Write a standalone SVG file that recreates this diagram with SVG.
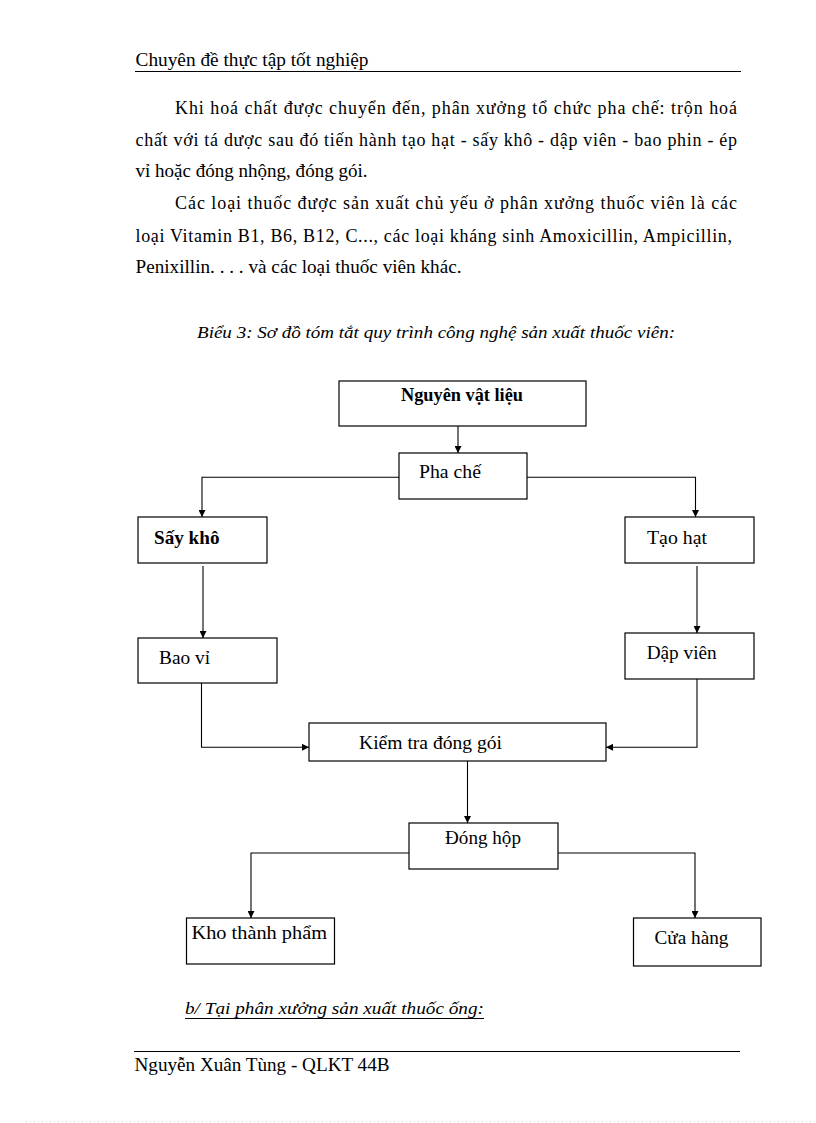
<svg xmlns="http://www.w3.org/2000/svg" width="816" height="1123" viewBox="0 0 816 1123">
<style>
text{font-family:"Liberation Serif","Times New Roman",serif;font-size:18px;fill:#000}
.b{font-weight:bold}
.i{font-style:italic;font-size:17px}
.box{fill:#fff;stroke:#000;stroke-width:1.2}
.rule{stroke:#000;stroke-width:1.1}
.con{fill:none;stroke:#000;stroke-width:1.1;marker-end:url(#ah)}
</style>
<defs>
<marker id="ah" markerUnits="userSpaceOnUse" markerWidth="8" markerHeight="7" refX="7" refY="3.5" orient="auto">
<path d="M0,0 L7,3.5 L0,7 z" fill="#000"/>
</marker>
</defs>
<rect width="816" height="1123" fill="#fff"/>
<g id="page">
<text x="135.5" y="66" textLength="233" lengthAdjust="spacingAndGlyphs">Chuyên đề thực tập tốt nghiệp</text>
<line class="rule" x1="135" y1="71.5" x2="741" y2="71.5"/>
<text x="175" y="114" textLength="562" lengthAdjust="spacing">Khi hoá chất được chuyển đến, phân xưởng tổ chức pha chế: trộn hoá</text>
<text x="135.5" y="145.5" textLength="601.5" lengthAdjust="spacing">chất với tá dược sau đó tiến hành tạo hạt - sấy khô - dập viên - bao phin - ép</text>
<text x="135.5" y="177" textLength="232" lengthAdjust="spacingAndGlyphs">vỉ hoặc đóng nhộng, đóng gói.</text>
<text x="175" y="209.3" textLength="562" lengthAdjust="spacing">Các loại thuốc được sản xuất chủ yếu ở phân xưởng thuốc viên là các</text>
<text x="135.5" y="242" textLength="596.5" lengthAdjust="spacing">loại Vitamin  B1, B6, B12, C..., các loại kháng sinh Amoxicillin,  Ampicillin,</text>
<text x="135.5" y="273" textLength="326" lengthAdjust="spacingAndGlyphs">Penixillin.  . . . và các loại thuốc viên khác.</text>
<text class="i" x="197" y="338" textLength="478" lengthAdjust="spacingAndGlyphs">Biểu 3: Sơ đồ tóm tắt quy trình công nghệ sản xuất thuốc viên:</text>
<text class="i" x="185" y="1014" textLength="299" lengthAdjust="spacingAndGlyphs">b/ Tại phân xưởng sản xuất thuốc ống:</text>
<line x1="185" y1="1018.5" x2="484" y2="1018.5" stroke="#000" stroke-width="1"/>
<line class="rule" x1="134" y1="1051.5" x2="740" y2="1051.5"/>
<text x="134.5" y="1071" textLength="255" lengthAdjust="spacingAndGlyphs">Nguyễn Xuân Tùng - QLKT 44B</text>
<line x1="26" y1="1122" x2="816" y2="1122" stroke="#c8c8c8" stroke-width="1" stroke-dasharray="1 3"/>
</g>
<g id="connectors">
<path class="con" d="M458,426 V453"/>
<path class="con" d="M399,477.3 H202 V517"/>
<path class="con" d="M527,477.3 H695.5 V517"/>
<path class="con" d="M203,566 V638"/>
<path class="con" d="M697,566 V633"/>
<path class="con" d="M201.5,683 V747.3 H309"/>
<path class="con" d="M697,679 V747.3 H606"/>
<path class="con" d="M467.5,761 V823"/>
<path class="con" d="M409,853 H251 V918"/>
<path class="con" d="M558,853 H695 V918"/>
</g>
<g id="n-nguyen-vat-lieu"><rect class="box" x="339" y="381" width="247" height="45"/><text class="b" x="401" y="401" textLength="122" lengthAdjust="spacingAndGlyphs">Nguyên vật liệu</text></g>
<g id="n-pha-che"><rect class="box" x="399" y="453" width="128" height="46"/><text x="419" y="478" textLength="62" lengthAdjust="spacingAndGlyphs">Pha chế</text></g>
<g id="n-say-kho"><rect class="box" x="138" y="517" width="129" height="46"/><text class="b" x="154" y="544" textLength="65.5" lengthAdjust="spacingAndGlyphs">Sấy khô</text></g>
<g id="n-tao-hat"><rect class="box" x="625" y="517" width="129" height="46"/><text x="647" y="544" textLength="60" lengthAdjust="spacingAndGlyphs">Tạo hạt</text></g>
<g id="n-bao-vi"><rect class="box" x="138" y="638" width="139" height="45"/><text x="159" y="663.5" textLength="51" lengthAdjust="spacingAndGlyphs">Bao vỉ</text></g>
<g id="n-dap-vien"><rect class="box" x="625" y="633" width="129" height="46"/><text x="646.7" y="659" textLength="70" lengthAdjust="spacingAndGlyphs">Dập viên</text></g>
<g id="n-kiem-tra"><rect class="box" x="309" y="723" width="297" height="38"/><text x="359" y="749" textLength="143" lengthAdjust="spacingAndGlyphs">Kiểm tra đóng gói</text></g>
<g id="n-dong-hop"><rect class="box" x="409" y="823" width="149" height="46"/><text x="445" y="844" textLength="76" lengthAdjust="spacingAndGlyphs">Đóng hộp</text></g>
<g id="n-kho"><rect class="box" x="186.5" y="918" width="148" height="46"/><text x="191.5" y="938.5" textLength="135.5" lengthAdjust="spacingAndGlyphs">Kho thành phẩm</text></g>
<g id="n-cua-hang"><rect class="box" x="633.5" y="918" width="127.5" height="48"/><text x="654.5" y="944" textLength="74" lengthAdjust="spacingAndGlyphs">Cửa hàng</text></g>
</svg>
